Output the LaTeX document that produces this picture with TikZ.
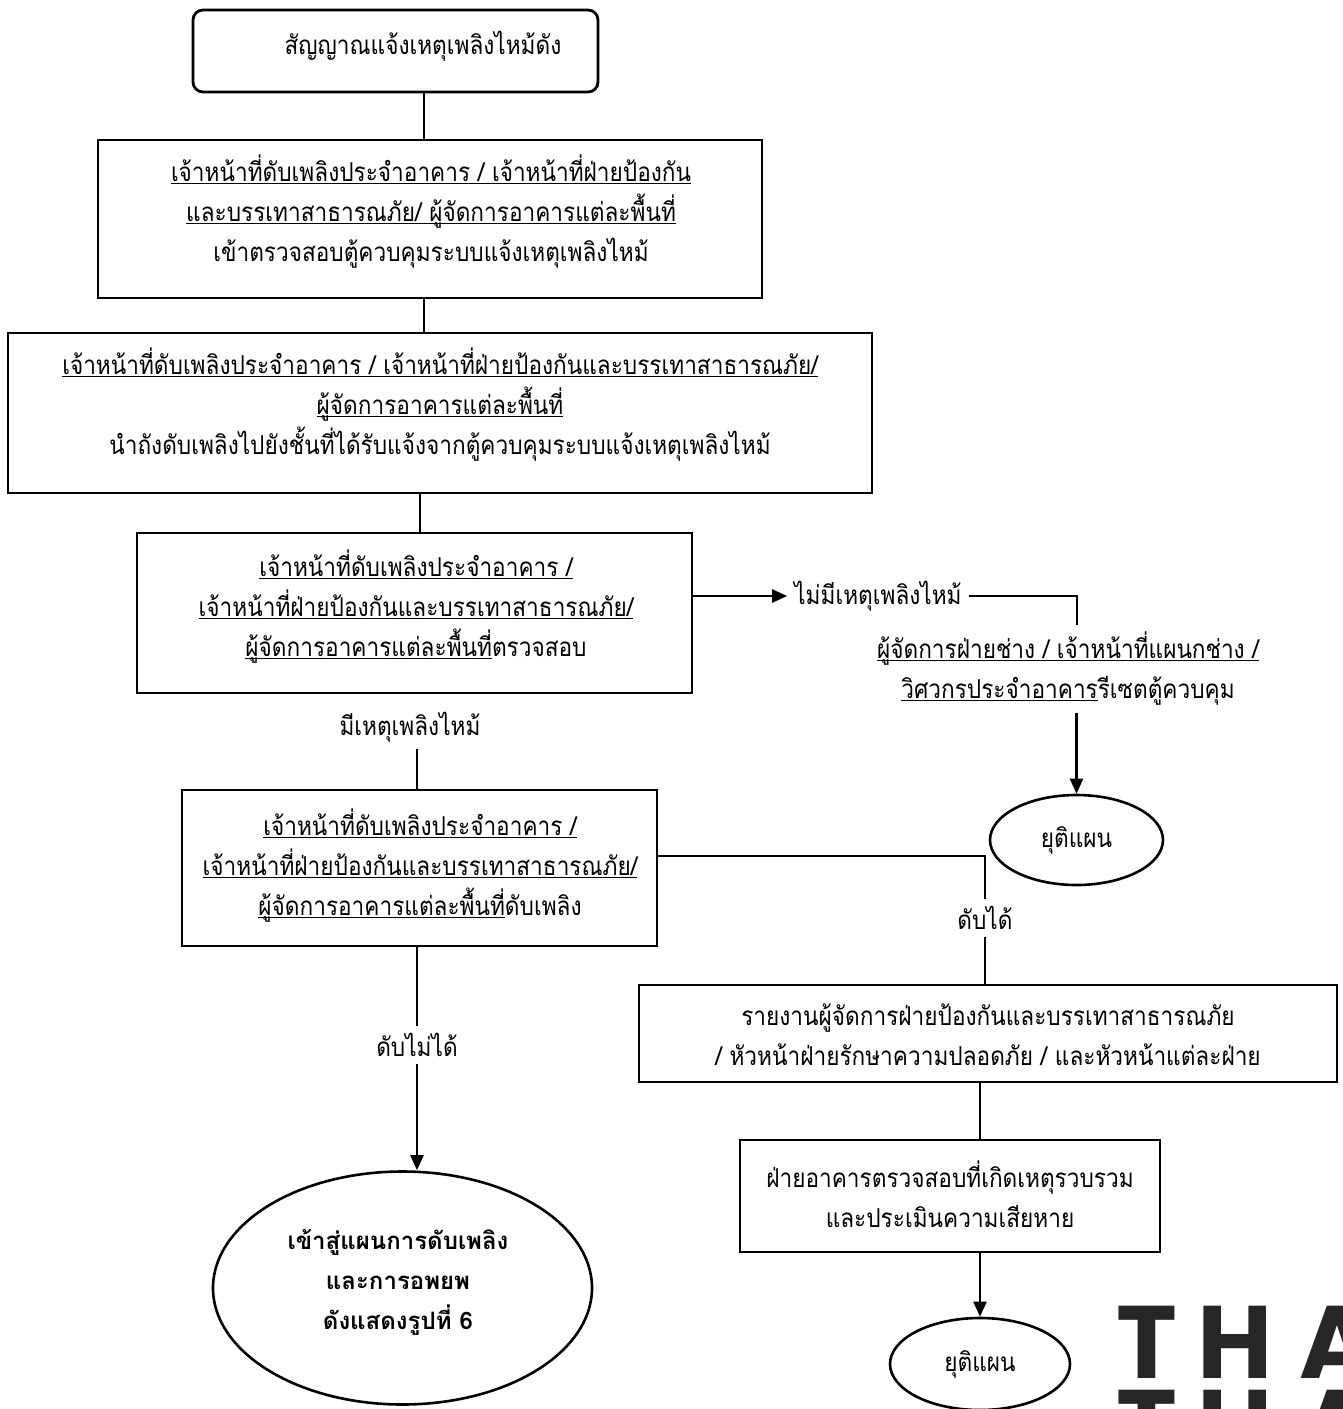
\documentclass[tikz,border=0pt]{standalone}
\usepackage{fontspec}
\newfontfamily\thai[Script=Thai,FakeStretch=0.87]{Loma}
\newfontfamily\thaiw[Script=Thai]{Loma}
\newfontfamily\wmfont{Poppins}
\usetikzlibrary{shapes.geometric,arrows.meta}
\newcommand\ulx[1]{\underline{\raisebox{0pt}[\height][0pt]{#1}}}
\tikzset{
  txt/.style={font=\thai\fontsize{26}{40}\selectfont, align=center},
  box/.style={draw, line width=2.8pt, inner sep=0pt},
  oval/.style={txt, draw, ellipse, line width=2.6pt, inner sep=0pt},
  lbl/.style={txt, inner sep=7pt},
  conn/.style={line width=2.4pt},
  arr/.style={conn, -{Triangle[length=15pt,width=13pt]}},
  wm/.style={font=\wmfont\bfseries\fontsize{103}{88}\selectfont, text=black!85, anchor=base, inner sep=0pt},
}
\begin{document}
\begin{tikzpicture}[x=1pt,y=-1pt]
\useasboundingbox[fill=white] (0,0) rectangle (1343,1409);
\coordinate (x417) at (417,0);
\coordinate (x420) at (420,0);
\coordinate (x424) at (424,0);
\coordinate (x1077) at (1077,0);
\coordinate (y596) at (0,596);
\coordinate (y856) at (0,856);

% boxes
\node[box, rounded corners=10pt, minimum width=405pt, minimum height=82pt] (b1) at (395.5,51) {};
\node[txt] (b1t) at (423,46) {สัญญาณแจ้งเหตุเพลิงไหม้ดัง};

\node[box, minimum width=664pt, minimum height=158pt] (b2) at (430,219) {};
\node[txt] (b2t) at (431,212)
  {\ulx{เจ้าหน้าที่ดับเพลิงประจำอาคาร / เจ้าหน้าที่ฝ่ายป้องกัน}\\
   \ulx{และบรรเทาสาธารณภัย/ ผู้จัดการอาคารแต่ละพื้นที่}\\
   เข้าตรวจสอบตู้ควบคุมระบบแจ้งเหตุเพลิงไหม้};

\node[box, minimum width=864pt, minimum height=160pt] (b3) at (440,413) {};
\node[txt] (b3t) at (440,405)
  {\ulx{เจ้าหน้าที่ดับเพลิงประจำอาคาร / เจ้าหน้าที่ฝ่ายป้องกันและบรรเทาสาธารณภัย/}\\
   \ulx{ผู้จัดการอาคารแต่ละพื้นที่}\\
   นำถังดับเพลิงไปยังชั้นที่ได้รับแจ้งจากตู้ควบคุมระบบแจ้งเหตุเพลิงไหม้};

\node[box, minimum width=555pt, minimum height=160pt] (b4) at (414.5,613) {};
\node[txt] (b4t) at (416,604)
  {\ulx{เจ้าหน้าที่ดับเพลิงประจำอาคาร /}\\
   \ulx{เจ้าหน้าที่ฝ่ายป้องกันและบรรเทาสาธารณภัย/}\\
   \ulx{ผู้จัดการอาคารแต่ละพื้นที่}ตรวจสอบ};

\node[lbl] (nofire) at (878,596) {ไม่มีเหตุเพลิงไหม้};
\node[lbl] (tech) at (1068,669)
  {\ulx{ผู้จัดการฝ่ายช่าง / เจ้าหน้าที่แผนกช่าง /}\\
   \ulx{วิศวกรประจำอาคาร}รีเซตตู้ควบคุม};
\node[oval, minimum width=173pt, minimum height=90pt] (e1) at (1076.5,840) {ยุติแผน};
\node[lbl] (yes) at (410,727) {มีเหตุเพลิงไหม้};

\node[box, minimum width=475pt, minimum height=156pt] (b5) at (419.5,868) {};
\node[txt] (b5t) at (420,863)
  {\ulx{เจ้าหน้าที่ดับเพลิงประจำอาคาร /}\\
   \ulx{เจ้าหน้าที่ฝ่ายป้องกันและบรรเทาสาธารณภัย/}\\
   \ulx{ผู้จัดการอาคารแต่ละพื้นที่}ดับเพลิง};

\node[lbl] (canfix) at (985,918) {ดับได้};
\node[lbl] (cannot) at (417,1045) {ดับไม่ได้};

\node[box, minimum width=698pt, minimum height=97pt] (b6) at (988,1033.5) {};
\node[txt] (b6t) at (988,1035)
  {รายงานผู้จัดการฝ่ายป้องกันและบรรเทาสาธารณภัย\\
   / หัวหน้าฝ่ายรักษาความปลอดภัย / และหัวหน้าแต่ละฝ่าย};

\node[box, minimum width=420pt, minimum height=112pt] (b7) at (950,1196) {};
\node[txt] (b7t) at (950,1194)
  {ฝ่ายอาคารตรวจสอบที่เกิดเหตุรวบรวม\\ และประเมินความเสียหาย};

\node[oval, minimum width=379pt, minimum height=233pt] (e2) at (402.5,1288) {};
\node[txt, font=\thaiw\bfseries\fontsize{24}{40}\selectfont] (e2t) at (398,1282)
  {เข้าสู่แผนการดับเพลิง\\ และการอพยพ\\ ดังแสดงรูปที่ 6};
\node[oval, minimum width=180pt, minimum height=92pt] (e3) at (980,1364) {ยุติแผน};

% watermark (cropped at the edge, as in the reference)
\node[wm] (wmT1) at (1147,1378) {T};
\node[wm] (wmH1) at (1235,1378) {H};
\node[wm] (wmA1) at (1337,1378) {A};
\node[wm] (wmT2) at (1147,1462) {T};
\node[wm] (wmH2) at (1235,1462) {H};
\node[wm] (wmA2) at (1337,1462) {A};

% connectors
\draw[conn] (b1.south -| x424) -- (b2.north -| x424);
\draw[conn] (b2.south -| x424) -- (b3.north -| x424);
\draw[conn] (b3.south -| x420) -- (b4.north -| x420);
\draw[arr] (b4.east |- y596) -- (nofire.west);
\draw[conn] (nofire.east) -| (tech.north -| x1077);
\draw[arr] (tech.south -| e1.north) -- (e1.north);
\draw[conn] (yes.south -| x417) -- (b5.north -| x417);
\draw[conn] (b5.east |- y856) -| (canfix.north);
\draw[conn] (canfix.south) -- (canfix.south |- b6.north);
\draw[conn] (b6.south -| e3.north) -- (b7.north -| e3.north);
\draw[arr] (b7.south -| e3.north) -- (e3.north);
\draw[conn] (b5.south -| x417) -- (cannot.north -| x417);
\draw[arr] (cannot.south -| x417) -- (e2.north -| x417);
\end{tikzpicture}
\end{document}
